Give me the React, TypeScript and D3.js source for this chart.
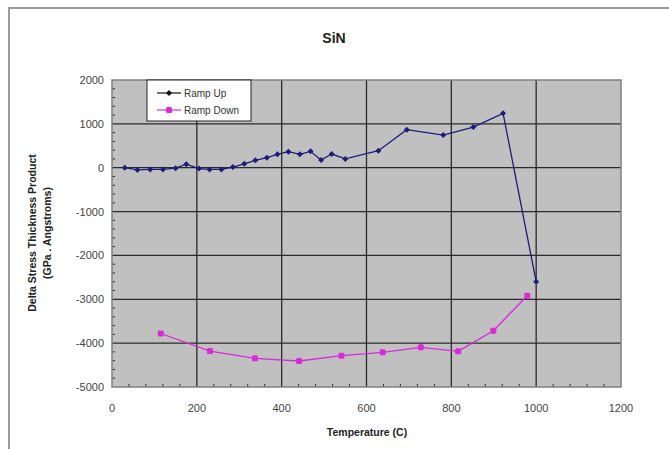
import React from "react";
import * as d3 from "d3";

const rampUpT = [30, 60, 90, 120, 150, 175, 205, 230, 258, 285, 312, 338, 365, 390, 416, 443, 468, 493, 518, 550, 628, 695, 781, 852, 922, 1000];
const rampUpV = [0, -50, -40, -40, -10, 80, -20, -40, -40, 15, 90, 170, 230, 305, 365, 305, 373, 175, 312, 200, 388, 867, 745, 928, 1240, -2600];
const rampDownT = [115, 231, 337, 441, 541, 638, 728, 816, 899, 979];
const rampDownV = [-3780, -4180, -4346, -4407, -4286, -4210, -4095, -4187, -3716, -2918];
const xTicks = [0, 200, 400, 600, 800, 1000, 1200];
const yTicks = [2000, 1000, 0, -1000, -2000, -3000, -4000, -5000];
const seriesNames = ["Ramp Up", "Ramp Down"];

const W = 669, H = 449;
const L = 112, R = 621, T = 80, B = 387;
const FONT = "'Liberation Sans', Arial, sans-serif";

export default function App() {
  const x = d3.scaleLinear().domain([0, 1200]).range([L, R]);
  const y = d3.scaleLinear().domain([-5000, 2000]).range([B, T]);
  const line = d3.line<[number, number]>().x(d => x(d[0])).y(d => y(d[1]));
  const up: [number, number][] = rampUpT.map((t, i) => [t, rampUpV[i]]);
  const down: [number, number][] = rampDownT.map((t, i) => [t, rampDownV[i]]);
  const xMinor = d3.range(0, 1201, 40).filter(v => v % 200 !== 0);
  const yMinor = d3.range(-5000, 2001, 200).filter(v => v % 1000 !== 0);
  const upColor = "#1c1c7a";
  const downColor = "#d82ad8";
  const diamond = (cx: number, cy: number, r: number) =>
    `M${cx},${cy - r}L${cx + r},${cy}L${cx},${cy + r}L${cx - r},${cy}Z`;

  return (
    <svg width={W} height={H} style={{ position: "absolute", left: 0, top: 0, background: "#fff" }}>
      <path d={`M9,${H}V8H${W}`} fill="none" stroke="#9a9a9a" strokeWidth={2} />
      <text x={334} y={43} textAnchor="middle" fontFamily={FONT} fontWeight="bold" fontSize={14} fill="#222">SiN</text>
      <rect x={L} y={T} width={R - L} height={B - T} fill="#c0c0c0" />
      {xTicks.slice(1, -1).map(v => (
        <line key={"gx" + v} x1={x(v)} x2={x(v)} y1={T} y2={B} stroke="#2a2a2a" strokeWidth={1.3} />
      ))}
      {yTicks.slice(1, -1).map(v => (
        <line key={"gy" + v} x1={L} x2={R} y1={y(v)} y2={y(v)} stroke="#2a2a2a" strokeWidth={1.3} />
      ))}
      {xMinor.map(v => (
        <line key={"mx" + v} x1={x(v)} x2={x(v)} y1={B} y2={B - 3} stroke="#333" strokeWidth={1} />
      ))}
      {yMinor.map(v => (
        <line key={"my" + v} x1={L} x2={L + 3} y1={y(v)} y2={y(v)} stroke="#333" strokeWidth={1} />
      ))}
      <rect x={L} y={T} width={R - L} height={B - T} fill="none" stroke="#808080" strokeWidth={1.5} />
      {xTicks.map(v => (
        <text key={"tx" + v} x={x(v)} y={412} textAnchor="middle" fontFamily={FONT} fontSize={11} fill="#444">{v}</text>
      ))}
      {yTicks.map(v => (
        <text key={"ty" + v} x={104} y={y(v) + 4} textAnchor="end" fontFamily={FONT} fontSize={11} fill="#444">{v}</text>
      ))}
      <text x={367} y={436} textAnchor="middle" fontFamily={FONT} fontWeight="bold" fontSize={10.5} fill="#222">Temperature (C)</text>
      <g transform="translate(36,233) rotate(-90)">
        <text x={0} y={0} textAnchor="middle" fontFamily={FONT} fontWeight="bold" fontSize={10.5} fill="#222">Delta Stress Thickness Product</text>
        <text x={0} y={15} textAnchor="middle" fontFamily={FONT} fontWeight="bold" fontSize={10.5} fill="#222">(GPa . Angstroms)</text>
      </g>
      <path d={line(up) || ""} fill="none" stroke={upColor} strokeWidth={1.3} />
      {up.map((d, i) => (
        <path key={"u" + i} d={diamond(x(d[0]), y(d[1]), 3)} fill={upColor} />
      ))}
      <path d={line(down) || ""} fill="none" stroke={downColor} strokeWidth={1.3} />
      {down.map((d, i) => (
        <rect key={"d" + i} x={x(d[0]) - 3} y={y(d[1]) - 3} width={6} height={6} rx={1.5} fill={downColor} />
      ))}
      <rect x={147} y={80} width={104} height={41} fill="#fff" stroke="#222" strokeWidth={1} />
      <line x1={157} x2={181} y1={93} y2={93} stroke="#111" strokeWidth={1.2} />
      <path d={diamond(169, 93, 3)} fill="#111" />
      <text x={184} y={97} fontFamily={FONT} fontSize={10} fill="#333">{seriesNames[0]}</text>
      <line x1={157} x2={181} y1={110} y2={110} stroke={downColor} strokeWidth={1.2} />
      <rect x={166} y={107} width={6} height={6} rx={1.5} fill={downColor} />
      <text x={184} y={114} fontFamily={FONT} fontSize={10} fill="#333">{seriesNames[1]}</text>
    </svg>
  );
}
